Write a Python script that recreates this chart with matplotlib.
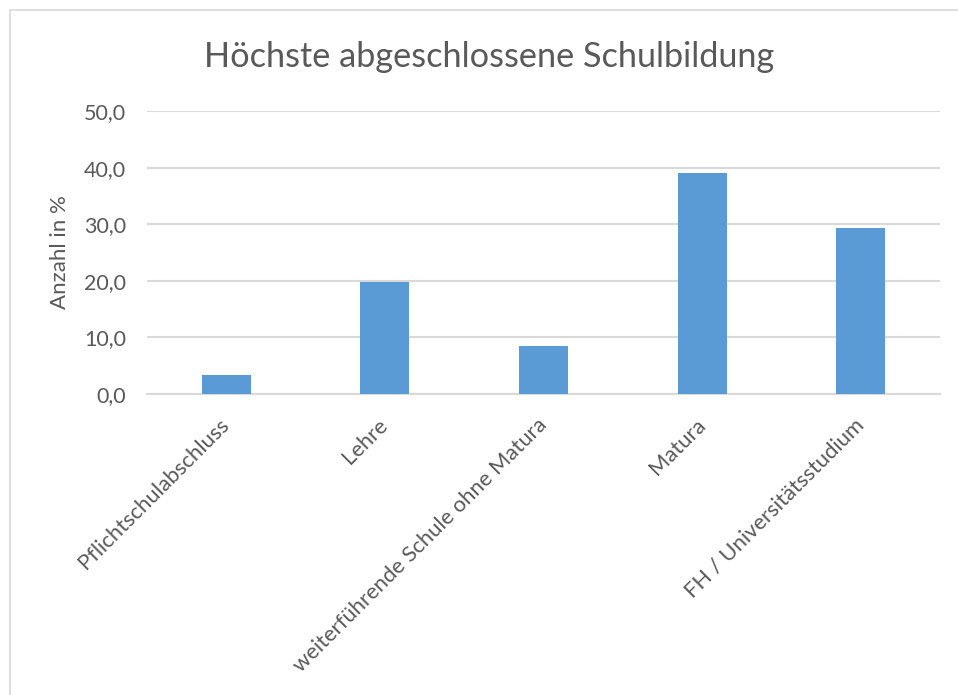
import matplotlib
matplotlib.use("Agg")
import matplotlib.pyplot as plt
from matplotlib.patches import Rectangle

categories = ["Pflichtschulabschluss", "Lehre", "weiterführende Schule ohne Matura",
              "Matura", "FH / Universitätsstudium"]
values = [3.3, 19.7, 8.4, 39.0, 29.3]
yticks = [0, 10, 20, 30, 40, 50]

TEXT = "#595959"
GRID = "#d9d9d9"
BAR = "#5b9bd5"

plt.rcParams['font.family'] = ['Lato', 'DejaVu Sans']

fig = plt.figure(figsize=(9.58, 6.95), dpi=100)
# outer chart frame (only top and left edges fall inside the picture)
fig.patches.append(Rectangle((10/958, -0.05), 1.0, 1.05 - 10/695, transform=fig.transFigure,
                             fill=False, edgecolor=GRID, linewidth=1.2))

ax = fig.add_axes([147/958, 1 - 394/695, (940 - 147)/958, (394 - 111)/695])
x = range(len(categories))
ax.bar(x, values, width=0.31, color=BAR, zorder=3)
ax.set_xlim(-0.5, len(categories) - 0.5)
ax.set_ylim(0, 50)
ax.set_yticks(yticks)
ax.set_yticklabels([f"{v:.1f}".replace(".", ",") for v in yticks], fontsize=15.5, color=TEXT)
ax.yaxis.grid(True, color=GRID, linewidth=1.5, zorder=0)
ax.set_xticks(list(x))
ax.set_xticklabels(categories, rotation=45, ha="right", va="center", rotation_mode="anchor",
                   fontsize=15.8, color=TEXT)
ax.tick_params(axis="both", length=0)
ax.tick_params(axis="y", pad=15)
ax.tick_params(axis="x", pad=20)
for s in ["top", "right", "left"]:
    ax.spines[s].set_visible(False)
ax.spines["bottom"].set_color(GRID)
ax.spines["bottom"].set_linewidth(1.5)
ax.set_ylabel("Anzahl in %", fontsize=16, color=TEXT, labelpad=10)

fig.text(489/958, 1 - 57/695, "Höchste abgeschlossene Schulbildung", ha="center",
         va="center", fontsize=24.7, color=TEXT)

fig.savefig("out.png", dpi=100)
